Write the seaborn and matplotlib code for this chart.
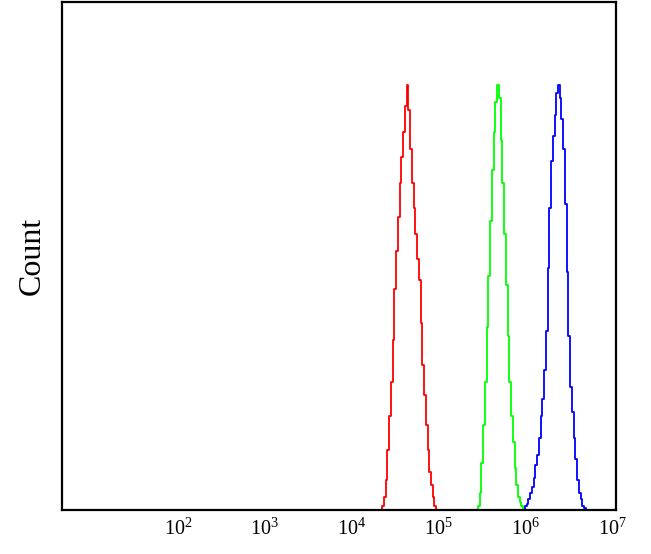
import numpy as np
import pandas as pd
import matplotlib
matplotlib.use("Agg")
import matplotlib.pyplot as plt
import seaborn as sns

# log10 bin centres (step 0.02 decade) and counts
red_log = list(np.round(np.arange(4.34, 4.981, 0.02), 2))
red_count = [0, 1, 3, 7, 14, 22, 30, 40, 52, 61, 69, 77, 83, 89, 95, 100,
             94, 85, 77, 71, 65, 59, 54, 44, 34, 27, 20, 14, 9, 6, 3, 1, 0]

green_log = list(np.round(np.arange(5.44, 5.981, 0.02), 2))
green_count = [0, 1, 4, 11, 20, 30, 43, 55, 68, 80, 89, 96, 100, 97,
               87, 77, 65, 53, 41, 30, 22, 16, 10, 6, 3, 2, 1, 0]

blue_log = list(np.round(np.arange(5.98, 6.701, 0.02), 2))
blue_count = [0, 1, 1.5, 2.5, 4, 5.5, 7.5, 10.5, 13, 17, 22, 26, 33, 42, 57,
              71, 82, 88, 93, 98, 100, 97, 92, 85, 72, 56, 41, 29, 23, 17,
              12, 7, 4, 2.5, 1, 0.5, 0]

series = [("red", red_log, red_count, "#ff0000"),
          ("green", green_log, green_count, "#00ff00"),
          ("blue", blue_log, blue_count, "#0000ff")]

sns.set_style("white")
plt.rcParams["font.family"] = ["Liberation Serif", "DejaVu Serif"]
plt.rcParams["mathtext.fontset"] = "custom"
plt.rcParams["mathtext.rm"] = "Liberation Serif"
plt.rcParams["mathtext.it"] = "Liberation Serif:italic"
plt.rcParams["text.color"] = "black"
plt.rcParams["axes.labelcolor"] = "black"
plt.rcParams["xtick.color"] = "black"

fig = plt.figure(figsize=(6.51, 5.54), dpi=100)
ax = fig.add_axes([0.095, 0.0794, 0.851, 0.917])

for name, lg, cnt, col in series:
    df = pd.DataFrame({"x": 10 ** np.array(lg), "count": cnt})
    sns.lineplot(data=df, x="x", y="count", ax=ax, color=col, linewidth=1.3,
                 drawstyle="steps-mid")

ax.set_xscale("log")
ax.set_xlim(10 ** 0.667, 10 ** 7.035)
ax.set_ylim(0, 119.5)
ax.set_xticks([10 ** k for k in range(2, 8)])
ax.set_xticklabels([f"$10^{{{k}}}$" for k in range(2, 8)], fontsize=14.5)
ax.minorticks_off()
ax.set_yticks([])
ax.tick_params(axis="x", length=0, pad=6)
ax.set_xlabel("")
ax.set_ylabel("Count", fontsize=23, labelpad=11)
for s in ax.spines.values():
    s.set_linewidth(1.6)
    s.set_color("black")

fig.savefig("out.png", dpi=100)
